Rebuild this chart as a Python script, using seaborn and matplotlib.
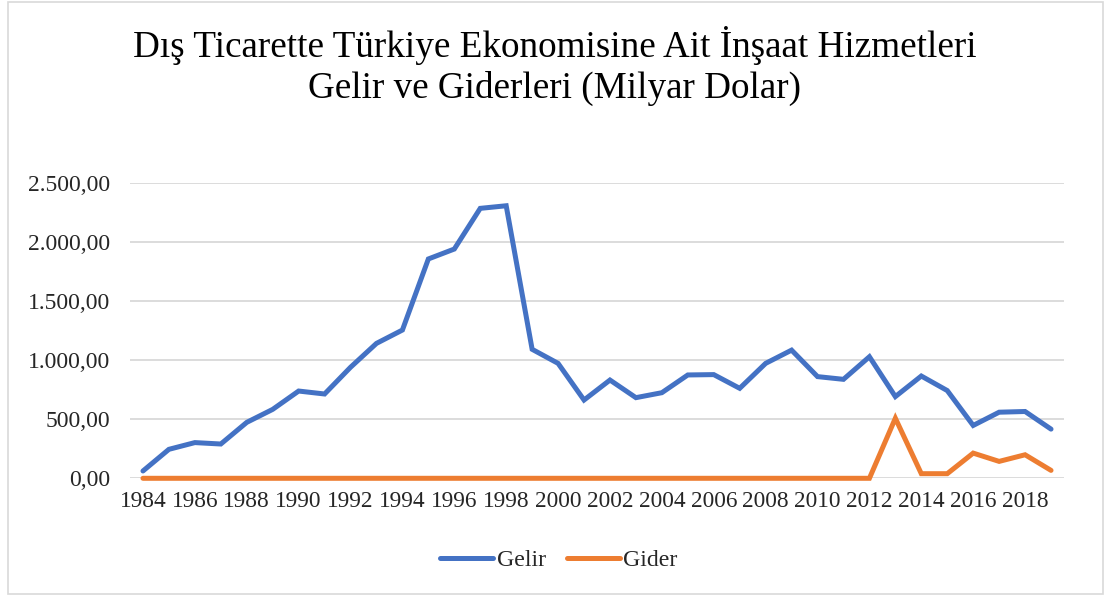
#!/usr/bin/env python3
"""Dis ticarette insaat hizmetleri gelir/gider cizgi grafigi."""

import matplotlib

matplotlib.use("Agg")

import matplotlib.pyplot as plt
import numpy as np
import pandas as pd
import seaborn as sns
from matplotlib.patches import Rectangle
from matplotlib.ticker import FuncFormatter

years = list(range(1984, 2020))
gelir = [62, 245, 302, 290, 473, 583, 738, 713, 939, 1141, 1254, 1855,
         1939, 2283, 2305, 1091, 972, 662, 831, 682, 724, 874, 877, 761,
         972, 1084, 860, 837, 1028, 691, 865, 742, 447, 559, 565, 416]
gider = [0] * 29 + [508, 39, 39, 213, 143, 199, 67]
series_names = ["Gelir", "Gider"]
colors = ["#4472C4", "#ED7D31"]
title_lines = ["Dış Ticarette Türkiye Ekonomisine Ait İnşaat Hizmetleri",
               "Gelir ve Giderleri (Milyar Dolar)"]

sns.set_theme(style="white")
plt.rcParams["font.family"] = ["Liberation Serif", "DejaVu Serif"]

W, H = 1105, 596


def tr_format(v, _pos):
    s = f"{v:,.2f}"
    return s.replace(",", "X").replace(".", ",").replace("X", ".")


def main():
    df = pd.DataFrame({"year": years * 2,
                       "value": gelir + gider,
                       "series": ["Gelir"] * len(years) + ["Gider"] * len(years)})

    fig = plt.figure(figsize=(W / 100, H / 100), dpi=100)
    ax = fig.add_axes([130 / W, 1 - 478.3 / H, 934 / W, 295.6 / H])

    sns.lineplot(data=df, x="year", y="value", hue="series", hue_order=series_names,
                 palette=colors, linewidth=3.6, ax=ax, legend=False,
                 solid_capstyle="round", solid_joinstyle="miter")
    for ln in ax.lines:
        ln.set_clip_on(False)

    ax.set_xlim(1983.5, 2019.5)
    ax.set_ylim(0, 2500)
    ax.set_yticks(np.arange(0, 2501, 500))
    ax.set_xticks(years[::2])
    ax.yaxis.set_major_formatter(FuncFormatter(tr_format))
    ax.grid(axis="y", color="#D9D9D9", linewidth=1.3)
    ax.set_axisbelow(True)
    for sp in ax.spines.values():
        sp.set_visible(False)
    ax.tick_params(axis="y", length=0, pad=14, labelsize=17)
    ax.tick_params(axis="x", length=0, pad=9, labelsize=16.8)
    ax.set_xlabel("")
    ax.set_ylabel("")

    fig.text(555 / W, 1 - 66 / H, "\n".join(title_lines), ha="center", va="center",
             fontsize=26.7, linespacing=1.25, color="#000000")

    handles = [plt.Line2D([0], [0], color=c, lw=3.6, solid_capstyle="round")
               for c in colors]
    fig.legend(handles, series_names, loc="center", ncol=2, frameon=False,
               bbox_to_anchor=(559 / W, 1 - 560 / H), fontsize=17.2,
               handlelength=2.2, handletextpad=0.15, columnspacing=0.9)

    fig.patches.append(Rectangle((8 / W, 2 / H), 1095 / W, 592 / H,
                                 transform=fig.transFigure, fill=False,
                                 edgecolor="#D9D9D9", linewidth=1.2))

    fig.savefig("out.png", dpi=100)
    plt.close(fig)


if __name__ == "__main__":
    main()
